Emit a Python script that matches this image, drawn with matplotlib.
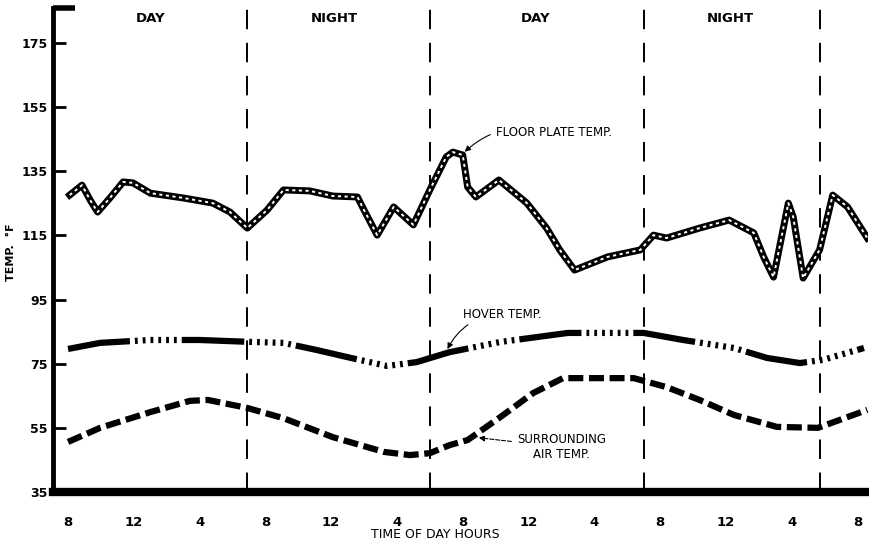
import matplotlib
matplotlib.use("Agg")
import matplotlib.pyplot as plt

# hours after 8 AM of day one
floor_h = [0.1, 0.85, 1.35, 1.8, 2.55, 3.35, 3.95, 5.0, 7.0, 8.8, 9.85, 10.9, 12.1, 13.1, 14.7,
           16.1, 17.6, 17.9, 18.8, 19.8, 21.0, 22.0, 23.0, 23.4, 24.0, 24.3, 24.8, 26.2, 27.9,
           29.1, 29.9, 30.8, 32.8, 34.8, 35.6, 36.4, 38.4, 40.2, 41.7, 42.3, 42.9, 43.8, 44.1,
           44.7, 45.7, 46.5, 47.4, 48.6]
floor_t = [127.6, 130.7, 126.0, 122.3, 126.7, 131.7, 131.4, 128.2, 126.7, 125.1, 122.3, 117.3,
           122.9, 129.2, 128.9, 127.3, 127.0, 123.9, 115.1, 123.9, 118.3, 129.2, 139.5, 141.0,
           140.1, 130.1, 127.0, 132.3, 125.1, 117.3, 110.5, 104.2, 108.3, 110.5, 115.1, 114.2,
           117.3, 119.8, 115.8, 108.3, 102.0, 125.1, 120.7, 101.7, 110.5, 127.6, 123.9, 114.2]

hover_h = [0.0, 1.95, 5.0, 8.0, 11.1, 13.1, 15.1, 17.2, 19.4, 21.2, 23.2, 26.3, 30.4, 35.0,
           37.4, 40.5, 42.5, 44.5, 45.9, 48.4]
hover_t = [79.6, 81.5, 82.4, 82.4, 81.8, 81.5, 79.3, 76.8, 74.3, 75.5, 78.6, 81.8, 84.6, 84.6,
           82.4, 79.9, 76.8, 75.2, 76.2, 79.9]

air_h = [0.0, 1.95, 5.0, 7.4, 8.5, 10.9, 13.1, 16.1, 19.2, 20.8, 22.0, 23.2, 24.3, 26.3, 28.3,
         30.1, 34.4, 36.4, 38.4, 40.5, 43.1, 45.6, 48.6]
air_t = [50.6, 55.0, 59.9, 63.4, 63.7, 61.2, 58.0, 52.1, 47.5, 46.5, 47.1, 49.6, 51.2, 58.4,
         65.9, 70.5, 70.5, 67.7, 63.7, 59.0, 55.3, 55.0, 60.6]

sun_changes = [10.9, 22.0, 35.0, 45.7]
periods = ["DAY", "NIGHT", "DAY", "NIGHT"]
period_mid = [5.0, 16.2, 28.4, 40.3]

x_ticks = list(range(0, 49, 4))
x_labels = ["8", "12", "4"] * 4 + ["8"]
y_ticks = [35, 55, 75, 95, 115, 135, 155, 175]

fig = plt.figure(figsize=(8.7, 5.43), dpi=100)
ax = fig.add_axes([0.061, 0.094, 0.937, 0.891])

for h in sun_changes:
    ax.axvline(h, color="black", lw=1.4, linestyle=(0, (10, 7)), zorder=1)

# floor plate: rope look
ax.plot(floor_h, floor_t, color="black", lw=5, solid_joinstyle="round", zorder=3)
ax.plot(floor_h, floor_t, color="white", lw=1.4, linestyle=(0, (1.6, 1.8)), zorder=4)

# hover: solid runs and hatched runs
hatch = (10, 0.8) + (0.45, 0.8) * 6
ax.plot(hover_h, hover_t, color="black", lw=4.5, linestyle=(0, hatch),
        dash_capstyle="butt", zorder=3)

# surrounding air: heavy dashes
ax.plot(air_h, air_t, color="black", lw=4.5, linestyle=(0, (2.4, 0.9)),
        dash_capstyle="butt", zorder=3)

for name, h in zip(periods, period_mid):
    ax.text(h, 182.8, name, ha="center", va="center", fontsize=9.5, fontweight="bold")

ax.annotate("FLOOR PLATE TEMP.", xy=(24.0, 140.5), xytext=(26.0, 147.0),
            fontsize=8.5, va="center", ha="left",
            arrowprops=dict(arrowstyle="-|>", color="black", lw=0.8,
                            connectionstyle="arc3,rad=0.3"))
ax.annotate("HOVER TEMP.", xy=(23.0, 78.8), xytext=(24.0, 90.5),
            fontsize=8.5, va="center", ha="left",
            arrowprops=dict(arrowstyle="-|>", color="black", lw=0.8,
                            connectionstyle="arc3,rad=0.3"))
ax.annotate("SURROUNDING\nAIR TEMP.", xy=(24.8, 52.0), xytext=(30.0, 49.0),
            fontsize=8.5, va="center", ha="center", multialignment="center",
            arrowprops=dict(arrowstyle="-|>", color="black", lw=0.8, linestyle="--"))

ax.set_xlim(-0.91, 48.66)
ax.set_ylim(35, 185.9)
ax.set_xticks(x_ticks)
ax.set_xticklabels(x_labels, fontsize=9.5, fontweight="bold")
ax.set_yticks(y_ticks)
ax.set_yticklabels([str(v) for v in y_ticks], fontsize=9, fontweight="bold")
ax.tick_params(axis="x", length=0, pad=17)
ax.tick_params(axis="y", direction="in", length=9, width=2, pad=4)

for s in ["top", "right"]:
    ax.spines[s].set_visible(False)
ax.spines["left"].set_linewidth(3.5)
ax.spines["bottom"].set_linewidth(6)
ax.plot([0, 0.027], [1, 1], transform=ax.transAxes, color="black", lw=4,
        clip_on=False, solid_capstyle="butt")

fig.text(11 / 870, 1 - 252 / 543, "TEMP.  °F", rotation=90, ha="center", va="center",
         fontsize=8, fontweight="bold")
fig.text(435 / 870, 1 - 535 / 543, "TIME OF DAY HOURS", ha="center", va="center",
         fontsize=9)

fig.savefig("out.png", dpi=100)
